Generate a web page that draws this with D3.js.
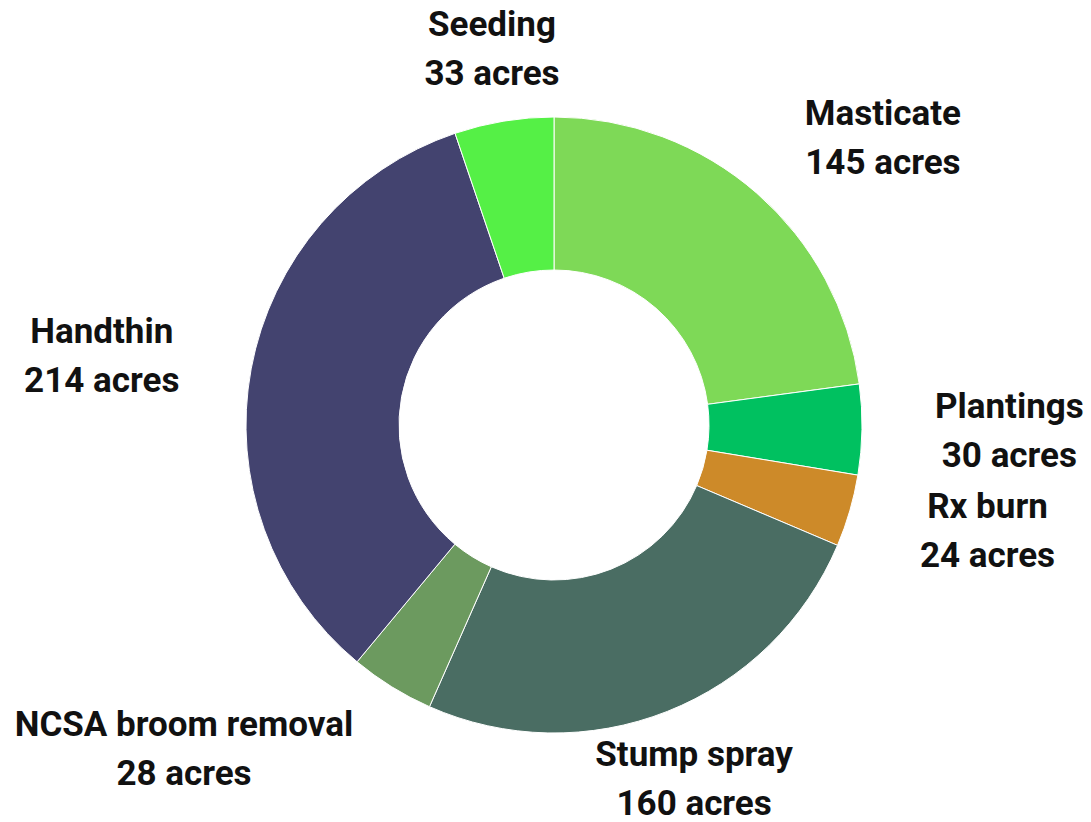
<!DOCTYPE html>
<html>
<head>
<meta charset="utf-8">
<script src="https://cdn.jsdelivr.net/npm/d3@7"></script>
<style>
  body { margin: 0; background: #fff; }
  text { font-family: Roboto, "Noto Sans", sans-serif; font-weight: 700; fill: #111; }
</style>
</head>
<body>
<script>
// slice names, acreage, colours (clockwise from 12 o'clock)
var names = ["Masticate", "Plantings", "Rx burn", "Stump spray", "NCSA broom removal", "Handthin", "Seeding"];
var acres = [145, 30, 24, 160, 28, 214, 33];
var colors = ["#7ed957", "#00c160", "#cd8a29", "#4a6d63", "#6c9a5f", "#43436f", "#55f046"];

var width = 1091, height = 822;
var cx = 554, cy = 425,
    outer = 308, inner = 155, labelR = 381;
var fontSize = 35, lineH = 49;

var svg = d3.select("body").append("svg")
    .attr("width", width)
    .attr("height", height);

var g = svg.append("g").attr("transform", "translate(" + cx + "," + cy + ")");

var data = names.map(function (n, i) {
    return { name: n, value: acres[i], color: colors[i] };
});

var pie = d3.pie()
    .sort(null)
    .value(function (d) { return d.value; });

var arc = d3.arc()
    .innerRadius(inner)
    .outerRadius(outer);

var arcs = pie(data);

g.selectAll("path.slice")
    .data(arcs)
    .enter().append("path")
    .attr("class", "slice")
    .attr("d", arc)
    .attr("fill", function (d) { return d.data.color; })
    .attr("stroke", "#fff")
    .attr("stroke-width", 1);

// labels: block of two lines, anchored by side of the donut
var lab = g.selectAll("g.label")
    .data(arcs)
    .enter().append("g")
    .attr("class", "label");

lab.each(function (d) {
    var a = (d.startAngle + d.endAngle) / 2;
    var x = labelR * Math.sin(a),
        y = -labelR * Math.cos(a);
    var sel = d3.select(this);
    var lines = [d.data.name, d.data.value + " acres"];
    var texts = sel.selectAll("text")
        .data(lines)
        .enter().append("text")
        .style("font-size", fontSize + "px")
        .attr("text-anchor", "middle")
        .attr("y", function (t, i) { return y - 13 + i * lineH; })
        .text(function (t) { return t; });
    var w = 0;
    texts.each(function () { w = Math.max(w, this.getComputedTextLength()); });
    var s = Math.sin(a);
    var mx = x;
    if (s > 0.5) mx = x + w / 2;
    else if (s < -0.5) mx = x - w / 2;
    texts.attr("x", mx);
});
</script>
</body>
</html>
